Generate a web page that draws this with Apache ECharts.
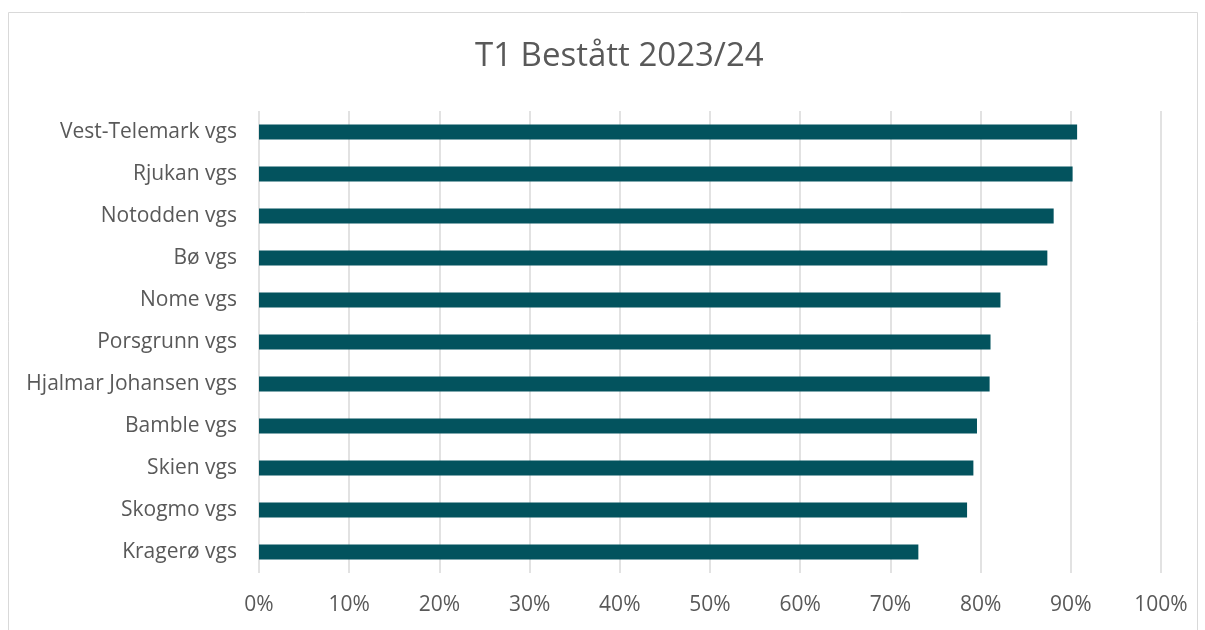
<!DOCTYPE html>
<html>
<head>
<meta charset="utf-8">
<script src="https://cdn.jsdelivr.net/npm/echarts@6/dist/echarts.min.js"></script>
<style>
  html, body { margin: 0; padding: 0; background: #fff; }
  #main { width: 1205px; height: 630px; }
</style>
</head>
<body>
<div id="main"></div>
<script>
var schools = [
  "Vest-Telemark vgs", "Rjukan vgs", "Notodden vgs", "Bø vgs", "Nome vgs",
  "Porsgrunn vgs", "Hjalmar Johansen vgs", "Bamble vgs", "Skien vgs",
  "Skogmo vgs", "Kragerø vgs"
];
var passed = [0.907, 0.902, 0.881, 0.874, 0.822, 0.811, 0.810, 0.796, 0.792, 0.785, 0.731];

var chartDom = document.getElementById("main");
var myChart = echarts.init(chartDom);
var option;
option = {
  animation: false,
  textStyle: { fontFamily: "Open Sans" },
  graphic: [
    {
      type: "rect",
      shape: { x: 8.5, y: 12.5, width: 1189, height: 640 },
      style: { fill: "none", stroke: "#d9d9d9", lineWidth: 1 },
      silent: true,
    },
  ],
  title: {
    text: "T1 Bestått 2023/24",
    left: 470,
    top: 35,
    textStyle: { fontSize: 33, fontWeight: "normal", color: "#595959", fontFamily: "Open Sans" },
  },
  grid: { left: 259, right: 44, top: 111, bottom: 57 },
  xAxis: {
    type: "value",
    min: 0,
    max: 1,
    interval: 0.1,
    axisLine: { show: false },
    axisTick: { show: false },
    splitLine: { lineStyle: { color: "#d9d9d9", width: 1.5 } },
    axisLabel: {
      color: "#595959",
      fontSize: 21,
      margin: 22,
      formatter: function (v) { return Math.round(v * 100) + "%"; },
    },
  },
  yAxis: {
    type: "category",
    data: schools,
    inverse: true,
    axisLine: { show: false },
    axisTick: { show: false },
    axisLabel: { color: "#595959", fontSize: 21, margin: 22, padding: [3, 0, 0, 0] },
  },
  series: [
    {
      type: "bar",
      data: passed,
      barWidth: 15,
      itemStyle: { color: "#03535e" },
    },
  ],
};
myChart.setOption(option);
</script>
</body>
</html>
